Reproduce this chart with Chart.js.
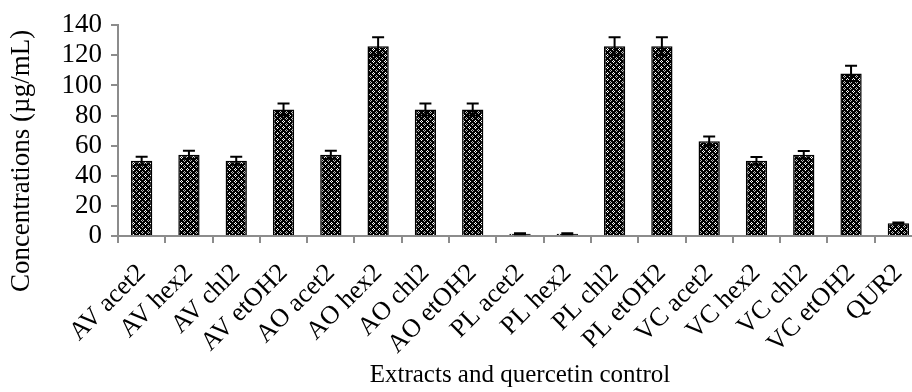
<!DOCTYPE html>
<html>
<head>
<meta charset="utf-8">
<script src="https://cdn.jsdelivr.net/npm/chart.js@4"></script>
<style>
  html, body { margin: 0; padding: 0; background: #fff; overflow: hidden; }
  canvas { display: block; }
</style>
</head>
<body>
<canvas id="myChart" width="922" height="392" style="width:922px;height:392px"></canvas>
<script>
const labels = ['AV acet2', 'AV hex2', 'AV chl2', 'AV etOH2', 'AO acet2', 'AO hex2', 'AO chl2', 'AO etOH2',
    'PL acet2', 'PL hex2', 'PL chl2', 'PL etOH2', 'VC acet2', 'VC hex2', 'VC chl2', 'VC etOH2', 'QUR2'];
const values = [50, 54, 50, 84, 54, 126, 84, 84, 1.5, 1.5, 126, 126, 63, 50, 54, 108, 8.5];
const errors = [2.7, 2.7, 2.7, 4, 2.7, 6, 4, 4, 0.3, 0.3, 6, 6, 3, 2.5, 2.5, 5, 0.4];
const yTicks = [0, 20, 40, 60, 80, 100, 120, 140];
const yTitle = 'Concentrations (µg/mL)';

const font = 'Liberation Serif';

// dotted diamond fill like the excel pattern
function makePattern() {
    const c = document.createElement('canvas');
    c.width = 6; c.height = 6;
    const p = c.getContext('2d');
    p.fillStyle = '#000';
    p.fillRect(0, 0, 6, 6);
    p.fillStyle = '#fff';
    p.fillRect(1, 0, 1, 1); p.fillRect(0, 1, 1, 1);
    p.fillRect(2, 1, 1, 1); p.fillRect(1, 2, 1, 1);
    p.fillStyle = '#bdbdbd';
    p.fillRect(4, 3, 1, 1); p.fillRect(3, 4, 1, 1);
    p.fillRect(5, 4, 1, 1); p.fillRect(4, 5, 1, 1);
    return p.createPattern(c, 'repeat');
}

const errorBars = {
    id: 'errorBars',
    afterDatasetsDraw(chart) {
        const ctx = chart.ctx;
        const y = chart.scales.y;
        const meta = chart.getDatasetMeta(0);
        ctx.save();
        ctx.strokeStyle = '#000';
        ctx.lineWidth = 2;
        meta.data.forEach((bar, i) => {
            const hi = y.getPixelForValue(values[i] + errors[i]);
            const lo = y.getPixelForValue(values[i] - errors[i]);
            ctx.beginPath();
            ctx.moveTo(bar.x, lo);
            ctx.lineTo(bar.x, hi);
            ctx.moveTo(bar.x - 6, hi);
            ctx.lineTo(bar.x + 6, hi);
            ctx.moveTo(bar.x - 6, lo);
            ctx.lineTo(bar.x + 6, lo);
            ctx.stroke();
        });
        ctx.restore();
    }
};

// y title sits a bit lower than the plot centre in the original
const sideTitle = {
    id: 'sideTitle',
    afterDraw(chart) {
        const ctx = chart.ctx;
        ctx.save();
        ctx.translate(22, 161);
        ctx.rotate(-Math.PI / 2);
        ctx.font = '27px "' + font + '"';
        ctx.fillStyle = '#000';
        ctx.textAlign = 'center';
        ctx.textBaseline = 'middle';
        ctx.fillText(yTitle, 0, 0);
        ctx.restore();
    }
};

const ctx = document.getElementById('myChart').getContext('2d');
const myChart = new Chart(ctx, {
    type: 'bar',
    data: {
        labels: labels,
        datasets: [{
            data: values,
            backgroundColor: makePattern(),
            borderColor: '#000',
            borderWidth: 1.5,
            categoryPercentage: 1,
            barPercentage: 0.45
        }]
    },
    options: {
        responsive: false,
        animation: false,
        layout: { padding: { top: 23, right: 0, left: 0, bottom: 0 } },
        plugins: {
            legend: { display: false },
            tooltip: { enabled: false }
        },
        scales: {
            x: {
                afterFit(scale) {
                    scale.height = 156;
                    scale.paddingLeft = 0;
                    scale.paddingRight = 0;
                },
                grid: {
                    drawOnChartArea: false,
                    color: '#8c8c8c',
                    lineWidth: 2,
                    tickLength: 7
                },
                border: { color: '#8c8c8c', width: 2 },
                ticks: {
                    color: '#000',
                    font: { family: font, size: 26 },
                    minRotation: 45,
                    maxRotation: 45,
                    autoSkip: false,
                    padding: 15
                },
                title: {
                    display: true,
                    text: 'Extracts and quercetin control',
                    color: '#000',
                    font: { family: font, size: 25 },
                    padding: { top: 0, bottom: 2 }
                }
            },
            y: {
                min: 0,
                max: 140,
                afterFit(scale) { scale.width = 118; },
                afterBuildTicks(scale) { scale.ticks = yTicks.map(v => ({ value: v })); },
                grid: {
                    drawOnChartArea: false,
                    color: '#8c8c8c',
                    lineWidth: 2,
                    tickLength: 7
                },
                border: { color: '#8c8c8c', width: 2 },
                ticks: {
                    autoSkip: false,
                    color: '#000',
                    font: { family: font, size: 27 },
                    padding: 9
                }
            }
        }
    },
    plugins: [errorBars, sideTitle]
});
</script>
</body>
</html>
